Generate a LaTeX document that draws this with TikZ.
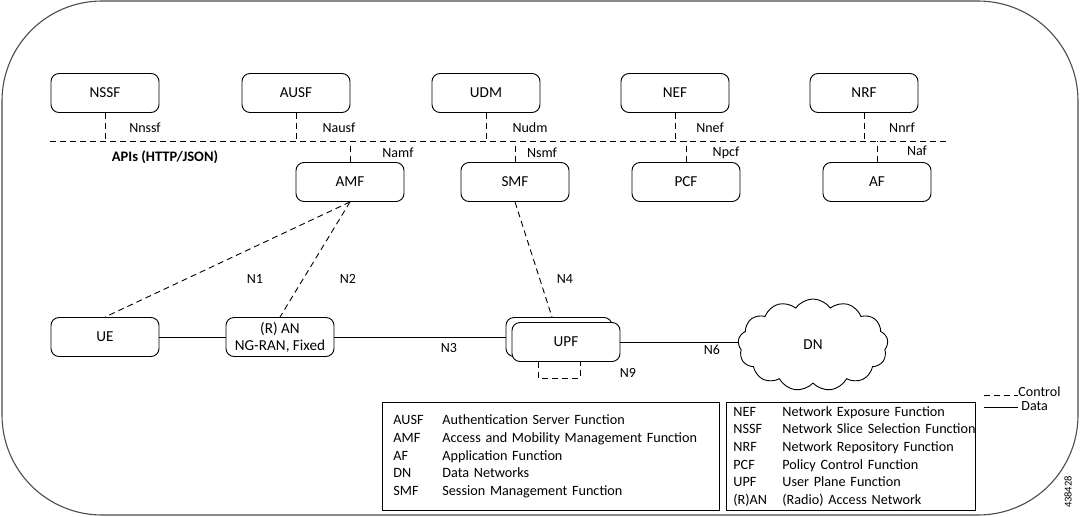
\documentclass[tikz,border=0pt]{standalone}
\usepackage{fontspec}
\setmainfont{Carlito}
\usetikzlibrary{shapes.symbols}

\begin{document}
\begin{tikzpicture}[x=1pt,y=-1pt,line width=0.9pt,
  nf/.style={draw,rounded corners=8pt,minimum width=108pt,minimum height=39pt,inner sep=0pt,align=center,font=\fontsize{15.2}{18}\selectfont},
  ctl/.style={dash pattern=on 6pt off 4pt},
  dat/.style={solid},
  lbl/.style={inner sep=0pt,font=\fontsize{14}{15}\selectfont},
  legbox/.style={draw,line width=0.8pt,anchor=north west,minimum height=108pt,align=left,font=\fontsize{14.2}{17.6}\selectfont}]
  \useasboundingbox (0,0) rectangle (1080,517);
  \draw[gray!60!black,line width=1.1pt,rounded corners=100pt] (2,1) rectangle (1078,515);

  \node[nf] (nssf) at (105,93) {NSSF};
  \node[nf] (ausf) at (296,93) {AUSF};
  \node[nf] (udm) at (486,93) {UDM};
  \node[nf] (nef) at (675,93) {NEF};
  \node[nf] (nrf) at (864,93) {NRF};
  \node[nf] (amf) at (350,182) {AMF};
  \node[nf] (smf) at (515,182) {SMF};
  \node[nf] (pcf) at (686,182) {PCF};
  \node[nf] (af) at (877,182) {AF};

  \coordinate (busL) at (50,141);
  \coordinate (busR) at (948,141);
  \draw[ctl] (busL) -- (busR);
  \foreach \nfn in {nssf,ausf,udm,nef,nrf} \draw[ctl] (\nfn.south) -- (\nfn.south |- busL);
  \foreach \nfn in {amf,smf,pcf,af} \draw[ctl] (\nfn.north) -- (\nfn.north |- busL);

  \node[lbl] (lnssf) at (145,128) {Nnssf};
  \node[lbl] (lausf) at (339,128) {Nausf};
  \node[lbl] (ludm) at (530,128) {Nudm};
  \node[lbl] (lnef) at (710,128) {Nnef};
  \node[lbl] (lnrf) at (902,128) {Nnrf};
  \node[lbl] (lamf) at (398,153) {Namf};
  \node[lbl] (lsmf) at (542,153) {Nsmf};
  \node[lbl] (lpcf) at (726,153) {Npcf};
  \node[lbl] (laf) at (917,151) {Naf};
  \node[inner sep=0pt,font=\fontsize{14.5}{16}\selectfont\bfseries] (api) at (165,157) {APIs (HTTP/JSON)};

  \node[nf] (ue) at (105,337) {UE};
  \node[nf] (ran) at (280,337) {(R) AN\\[-1pt]NG-RAN, Fixed};
  \node[nf,minimum width=106pt] (upfb) at (559,337) {};
  \node[nf,fill=white] (upf) at (566,342) {UPF};
  \node[cloud,draw,cloud puffs=13,cloud puff arc=110,aspect=1.7,minimum width=150pt,minimum height=92pt,inner sep=0pt,font=\fontsize{15.2}{18}\selectfont] (dn) at (813,345) {DN};

  \draw[dat] (ue) -- (ran);
  \draw[dat] (ran.east) -- (upfb.west);
  \draw[dat] (upf.east) -- (upf.east -| dn.west);
  \draw[ctl] (amf.south) -- (ue.north);
  \draw[ctl] (amf.south) -- (ran.north);
  \draw[ctl] (smf.south) -- ([xshift=-7pt]upfb.north);
  \draw[ctl] ([xshift=-28pt]upf.south) -- ++(0,16) -- ++(42,0) -- ++(0,-16);

  \node[lbl] (n1) at (255,279) {N1};
  \node[lbl] (n2) at (348,279) {N2};
  \node[lbl] (n4) at (565,279) {N4};
  \node[lbl] (n3) at (449,348) {N3};
  \node[lbl] (n6) at (712,350) {N6};
  \node[lbl] (n9) at (628,373) {N9};

  \node[legbox,text width=315pt,inner xsep=11pt] (leg1) at (382,402) {%
    \makebox[49pt][l]{AUSF}Authentication Server Function\\
    \makebox[49pt][l]{AMF}Access and Mobility Management Function\\
    \makebox[49pt][l]{AF}Application Function\\
    \makebox[49pt][l]{DN}Data Networks\\
    \makebox[49pt][l]{SMF}Session Management Function};
  \node[legbox,text width=235pt,inner xsep=7pt] (leg2) at (726,402) {%
    \makebox[49pt][l]{NEF}Network Exposure Function\\
    \makebox[49pt][l]{NSSF}\makebox[0pt][l]{Network Slice Selection Function}\\
    \makebox[49pt][l]{NRF}Network Repository Function\\
    \makebox[49pt][l]{PCF}Policy Control Function\\
    \makebox[49pt][l]{UPF}User Plane Function\\
    \makebox[49pt][l]{(R)AN}(Radio) Access Network};

  \node[lbl,anchor=west,text height=8pt,text depth=1pt] (ctlkey) at (1018,393) {Control};
  \node[lbl,anchor=west,text height=8pt,text depth=1pt] (datkey) at (1021,407) {Data};
  \coordinate (ctlend) at (984,395);
  \coordinate (datend) at (984,407);
  \draw[ctl] (ctlend) -- (ctlend -| ctlkey.west);
  \draw[dat] (datend) -- ([xshift=-3pt]datkey.west);
  \node[inner sep=0pt,rotate=90,font=\fontsize{10.5}{11}\selectfont] (figid) at (1068,492) {438428};
\end{tikzpicture}
\end{document}
